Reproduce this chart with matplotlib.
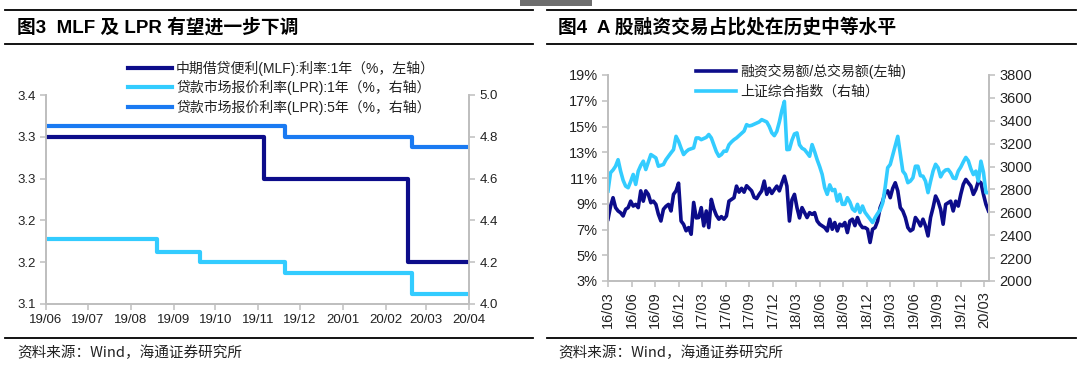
import math
import numpy as np
import pandas as pd
import matplotlib
matplotlib.use("Agg")
import matplotlib.pyplot as plt
import matplotlib.dates as mdates
from matplotlib.ticker import FuncFormatter, FixedLocator
from matplotlib.patches import Rectangle
from matplotlib.lines import Line2D

plt.rcParams["font.family"] = ["Liberation Sans", "Noto Sans CJK SC", "DejaVu Sans"]

# ---- 图3 data: rate changes (step series) ----
mlf_dates = ["2019-06-01", "2019-11-05", "2020-02-17", "2020-04-01"]
mlf_rate = [3.30, 3.25, 3.15, 3.15]
lpr1_dates = ["2019-06-01", "2019-08-20", "2019-09-20", "2019-11-20", "2020-02-20", "2020-04-01"]
lpr1_rate = [4.31, 4.25, 4.20, 4.15, 4.05, 4.05]
lpr5_dates = ["2019-06-01", "2019-11-20", "2020-02-20", "2020-04-01"]
lpr5_rate = [4.85, 4.80, 4.75, 4.75]

# ---- 图4 data, roughly every 10 days ----
margin_ratio = [
    7.8, 8.8, 9.47, 8.7, 8.44, 8.3, 8.05, 8.57, 8.7, 9.2,
    8.82, 8.95, 8.7, 10.0, 9.2, 10.0, 9.73, 9.08, 9.2, 8.95,
    8.18, 7.66, 8.57, 8.8, 8.95, 8.44, 9.73, 10.0, 10.6, 7.66,
    7.4, 6.9, 7.15, 6.63, 9.1, 7.9, 7.93, 8.7, 7.28, 8.44,
    7.15, 9.34, 8.6, 8.1, 7.8, 8.0, 7.8, 8.05, 9.2, 9.34,
    9.47, 10.37, 9.9, 10.2, 9.9, 10.4, 10.2, 10.0, 9.5, 9.4,
    9.73, 10.0, 10.76, 9.73, 10.2, 9.8, 10.1, 10.37, 10.0, 10.6,
    11.14, 10.37, 7.66, 9.3, 9.73, 8.7, 7.9, 8.7, 8.31, 7.93,
    8.31, 8.18, 8.31, 7.66, 7.41, 7.28, 7.15, 6.89, 7.8, 7.02,
    7.54, 6.89, 7.41, 7.28, 7.54, 6.76, 7.66, 7.8, 7.3, 7.93,
    7.41, 7.15, 7.15, 7.02, 5.99, 7.02, 7.15, 7.66, 8.7, 9.2,
    9.86, 10.0, 9.47, 10.2, 10.63, 10.0, 8.7, 8.44, 7.93, 7.15,
    6.89, 7.02, 7.93, 7.66, 7.28, 7.8, 7.28, 6.5, 7.93, 8.7,
    9.6, 9.2, 8.57, 7.41, 8.95, 9.08, 9.2, 8.44, 9.2, 8.82,
    9.73, 10.5, 10.89, 10.63, 10.37, 9.73, 10.12, 10.76, 10.63, 9.73,
    8.95, 8.44,
]
sse_index = [
    2786, 2946, 2970, 3003, 3060, 2960, 2880, 2829, 2815, 2870,
    2931, 2844, 2960, 3010, 3047, 2974, 3040, 3105, 3090, 3076,
    3003, 3010, 3018, 3060, 3090, 3120, 3148, 3264, 3221, 3160,
    3105, 3130, 3148, 3155, 3163, 3250, 3250, 3235, 3245, 3255,
    3280, 3250, 3190, 3130, 3090, 3105, 3135, 3134, 3190, 3215,
    3235, 3250, 3270, 3290, 3310, 3366, 3355, 3360, 3370, 3381,
    3390, 3410, 3400, 3390, 3350, 3295, 3270, 3308, 3390, 3490,
    3569, 3148, 3150, 3230, 3285, 3294, 3190, 3160, 3148, 3120,
    3090, 3192, 3130, 3060, 3000, 2931, 2815, 2757, 2840, 2790,
    2800, 2699, 2757, 2670, 2670, 2728, 2690, 2630, 2610, 2670,
    2598, 2655, 2600, 2570, 2540, 2511, 2554, 2590, 2620, 2680,
    2820, 2990, 3018, 3100, 3180, 3264, 3110, 2960, 2931, 2859,
    2873, 2902, 3003, 3003, 2920, 2916, 2873, 2772, 2870, 2960,
    3020, 2990, 2910, 2950, 2970, 2974, 2945, 2900, 2895, 2960,
    2995, 3040, 3080, 3050, 2980, 2930, 2960, 2873, 3047, 2950,
    2772, 2772,
]
fig4_dates = pd.date_range("2016-03-01", "2020-03-18", periods=len(margin_ratio))

NAVY = "#0c0c8a"
CYAN = "#33ccff"
BLUE = "#1a7af2"
SPINE = "#bfbfbf"
TXT = "#222222"
CJK = ["Noto Sans CJK SC", "DejaVu Sans"]
MIXED = ["Liberation Sans", "Noto Sans CJK SC"]

W, H = 1080, 378
fig = plt.figure(figsize=(W / 100, H / 100), dpi=100)


def fx(px):
    return px / W


def fy(py):
    return 1 - py / H


# header / footer rules and the grey block at the top
for x0, x1 in [(5, 533), (547, 1076)]:
    for yy in (10, 44, 338):
        fig.add_artist(Line2D([fx(x0), fx(x1)], [fy(yy), fy(yy)], color="black", lw=1.3))
fig.add_artist(Rectangle((fx(520), fy(6)), fx(72), 6 / H, color="#6e6e6e", lw=0))

fig.text(fx(17), fy(27), "图3  MLF 及 LPR 有望进一步下调", fontsize=13.5, fontweight="bold",
         va="center", family=MIXED)
fig.text(fx(558), fy(27), "图4  A 股融资交易占比处在历史中等水平", fontsize=13.5, fontweight="bold",
         va="center", family=MIXED)
fig.text(fx(17), fy(353), "资料来源：Wind，海通证券研究所", fontsize=10.5, va="center", color=TXT, family=CJK)
fig.text(fx(558), fy(353), "资料来源：Wind，海通证券研究所", fontsize=10.5, va="center", color=TXT, family=CJK)


def style_axes(ax, axr):
    for a in (ax, axr):
        a.spines["top"].set_visible(False)
        for s in ("left", "right", "bottom"):
            a.spines[s].set_color(SPINE)
            a.spines[s].set_linewidth(1.3)
        a.tick_params(colors=SPINE, labelcolor=TXT, direction="out", length=4, width=1.1)
    ax.patch.set_visible(False)


# ---------- left chart ----------
ax1 = fig.add_axes([fx(46), fy(304), fx(469 - 46), (304 - 95) / H])
ax1r = ax1.twinx()
style_axes(ax1, ax1r)

l_mlf, = ax1.step(pd.to_datetime(mlf_dates), mlf_rate, where="post", color=NAVY, lw=3)
l_lpr1, = ax1r.step(pd.to_datetime(lpr1_dates), lpr1_rate, where="post", color=CYAN, lw=3)
l_lpr5, = ax1r.step(pd.to_datetime(lpr5_dates), lpr5_rate, where="post", color=BLUE, lw=3)
ax1.set_zorder(ax1r.get_zorder() + 1)

ax1.set_xlim(pd.Timestamp("2019-06-01"), pd.Timestamp("2020-04-01"))
ax1.set_ylim(3.10, 3.35)
ax1.yaxis.set_major_locator(FixedLocator(np.arange(3.10, 3.351, 0.05)))
ax1.yaxis.set_major_formatter(FuncFormatter(lambda v, p: f"{math.floor(v * 10 + 0.5 + 1e-9) / 10:.1f}"))
ax1r.set_ylim(4.0, 5.0)
ax1r.yaxis.set_major_locator(FixedLocator(np.arange(4.0, 5.01, 0.2)))
ax1r.yaxis.set_major_formatter(FuncFormatter(lambda v, p: f"{v:.1f}"))
ax1.xaxis.set_major_locator(mdates.MonthLocator())
ax1.xaxis.set_major_formatter(mdates.DateFormatter("%y/%m"))
ax1.tick_params(labelsize=9.5)
ax1r.tick_params(labelsize=9.5)

fig.legend([l_mlf, l_lpr1, l_lpr5],
           ["中期借贷便利(MLF):利率:1年（%，左轴）",
            "贷款市场报价利率(LPR):1年（%，右轴）",
            "贷款市场报价利率(LPR):5年（%，右轴）"],
           loc="upper left", bbox_to_anchor=(fx(122), fy(55)), frameon=False,
           prop={"family": MIXED, "size": 10},
           handlelength=3.2, handletextpad=0.3, labelspacing=0.32, borderaxespad=0,
           labelcolor=TXT)

# ---------- right chart ----------
ax2 = fig.add_axes([fx(608), fy(281), fx(989 - 608), (281 - 75) / H])
ax2r = ax2.twinx()
style_axes(ax2, ax2r)

l_ratio, = ax2.plot(fig4_dates, margin_ratio, color=NAVY, lw=2.6)
l_sse, = ax2r.plot(fig4_dates, sse_index, color=CYAN, lw=2.6)

ax2.set_xlim(pd.Timestamp("2016-03-01"), pd.Timestamp("2020-03-20"))
ax2.set_ylim(3, 19)
ax2.yaxis.set_major_locator(FixedLocator(np.arange(3, 19.1, 2)))
ax2.yaxis.set_major_formatter(FuncFormatter(lambda v, p: f"{v:.0f}%"))
ax2r.set_ylim(2000, 3800)
ax2r.yaxis.set_major_locator(FixedLocator(np.arange(2000, 3801, 200)))
ax2.xaxis.set_major_locator(mdates.MonthLocator(bymonth=[3, 6, 9, 12]))
ax2.xaxis.set_major_formatter(mdates.DateFormatter("%y/%m"))
ax2.tick_params(labelsize=10.5)
ax2r.tick_params(labelsize=10.5)
plt.setp(ax2.get_xticklabels(), rotation=90)

fig.legend([l_ratio, l_sse], ["融资交易额/总交易额(左轴)", "上证综合指数（右轴）"],
           loc="upper left", bbox_to_anchor=(fx(690), fy(58)), frameon=False,
           prop={"family": MIXED, "size": 10},
           handlelength=2.9, handletextpad=0.3, labelspacing=0.45, borderaxespad=0,
           labelcolor=TXT)

fig.savefig("out.png", dpi=100)
